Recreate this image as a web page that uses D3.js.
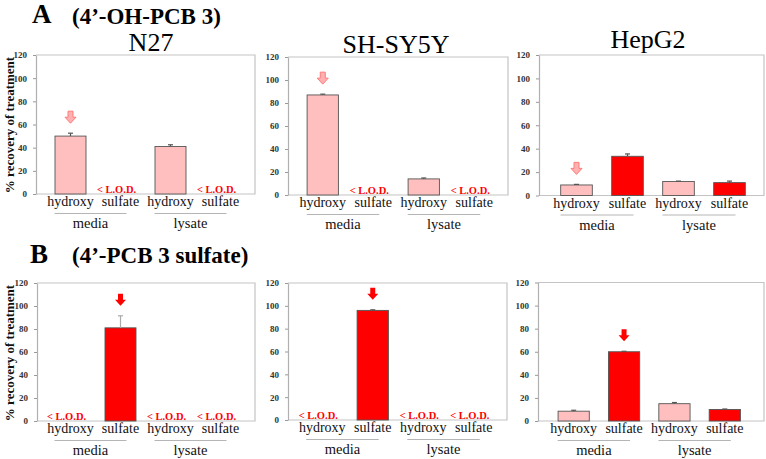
<!DOCTYPE html>
<html><head><meta charset="utf-8">
<script src="https://cdn.jsdelivr.net/npm/d3@7"></script>
<style>body{margin:0;background:#fff}svg{display:block}
svg text{font-family:"Liberation Serif","Times New Roman","DejaVu Serif",serif;}</style>
</head><body>
<svg id="c" width="766" height="459"></svg>
<script>
// ---------- data ----------
const categories = ["hydroxy", "sulfate", "hydroxy", "sulfate"];
const keys = ["mh", "ms", "lh", "ls"];
const groups = ["media", "lysate"];
const yTicks = [0, 20, 40, 60, 80, 100, 120];
const cellLines = ["N27", "SH-SY5Y", "HepG2"];
const rowTitles = ["(4\u2019-OH-PCB 3)", "(4\u2019-PCB 3 sulfate)"];
const rowLetters = ["A", "B"];
const yLabel = "% recovery of treatment";
const lodLabel = "< L.O.D.";

// % recovery (null = below limit of detection)
const A_N27 = [50, null, 41, null];
const A_N27_err = [2.5, 0, 1.5, 0];
const A_SHSY5Y = [87, null, 14, null];
const A_SHSY5Y_err = [0.7, 0, 0.8, 0];
const A_HepG2 = [9, 33.5, 12, 11];
const A_HepG2_err = [0.5, 2, 0.3, 1.3];
const B_N27 = [null, 81, null, null];
const B_N27_err = [0, 10.5, 0, 0];
const B_SHSY5Y = [null, 96, null, null];
const B_SHSY5Y_err = [0, 0.5, 0, 0];
const B_HepG2 = [8.5, 60, 15, 10];
const B_HepG2_err = [0.8, 0.4, 1, 0.4];
// index of the treated compound (arrow)
const arrowA = 0, arrowB = 1;

// ---------- layout ----------
const panels = [
  {vals: A_N27, errs: A_N27_err, arrow: arrowA, row: 0, title: cellLines[0], tx: 151, ty: 51,
   axisX: 36, top: 55, bottom: 194, right: 255, b0: 45.5, b1: 245.5},
  {vals: A_SHSY5Y, errs: A_SHSY5Y_err, arrow: arrowA, row: 0, title: cellLines[1], tx: 396, ty: 52.5,
   axisX: 288, top: 57, bottom: 195, right: 508, b0: 297.5, b1: 499.5},
  {vals: A_HepG2, errs: A_HepG2_err, arrow: arrowA, row: 0, title: cellLines[2], tx: 648, ty: 47.5,
   axisX: 539, top: 55, bottom: 195.5, right: 764, b0: 551, b1: 755},
  {vals: B_N27, errs: B_N27_err, arrow: arrowB, row: 1, title: null,
   axisX: 37, top: 283, bottom: 421, right: 255, b0: 45.5, b1: 245.5},
  {vals: B_SHSY5Y, errs: B_SHSY5Y_err, arrow: arrowB, row: 1, title: null,
   axisX: 288, top: 283, bottom: 420, right: 507, b0: 297, b1: 499},
  {vals: B_HepG2, errs: B_HepG2_err, arrow: arrowB, row: 1, title: null,
   axisX: 538, top: 282.5, bottom: 421, right: 764, b0: 548.5, b1: 750}
];

const pink = "#ffbfbf", red = "#ff0000";
const svg = d3.select("#c");

// row headings
[[32, 23, 72, 24], [30, 263, 72, 263]].forEach((p, i) => {
  svg.append("text").attr("x", p[0]).attr("y", p[1]).text(rowLetters[i])
    .style("font-weight", "bold").style("font-size", "27px").attr("fill", "#000");
  svg.append("text").attr("x", p[2]).attr("y", p[3]).text(rowTitles[i])
    .style("font-weight", "bold").style("font-size", "23px").attr("fill", "#000");
});

// y labels
[125, 353].forEach(cy => {
  svg.append("text").attr("transform", `translate(14,${cy}) rotate(-90)`)
    .attr("text-anchor", "middle").text(yLabel)
    .style("font-weight", "bold").style("font-size", "13px").attr("fill", "#111");
});

const arrowPath = "M-2.5,-12L2.5,-12L2.5,-6L5.5,-6L0,0L-5.5,-6L-2.5,-6Z";

panels.forEach(p => {
  const g = svg.append("g");
  const y = d3.scaleLinear().domain([0, 120]).range([p.bottom, p.top]);
  const x = d3.scaleBand().domain(keys).range([p.b0, p.b1]).paddingInner(0.38).paddingOuter(0.19);
  const bw = x.bandwidth();
  const cx = k => x(k) + bw / 2;

  // frame
  g.append("path")
    .attr("d", `M${p.axisX},${p.top}H${p.right}V${p.bottom}H${p.axisX}`)
    .attr("fill", "none").attr("stroke", "#c4c4c4").attr("stroke-width", 1.2);

  // y axis
  const ax = g.append("g").attr("transform", `translate(${p.axisX},0)`)
    .call(d3.axisLeft(y).tickValues(yTicks).tickSize(3).tickSizeOuter(0).tickPadding(6));
  ax.attr("font-family", null);
  ax.select(".domain").attr("stroke", "#b0b0b0").attr("stroke-width", 1.2);
  ax.selectAll(".tick line").attr("stroke", "#999");
  ax.selectAll(".tick text").style("font-weight", "bold")
    .style("font-size", "9px").attr("fill", "#333");

  if (p.title) {
    g.append("text").attr("x", p.tx).attr("y", p.ty).attr("text-anchor", "middle")
      .text(p.title).style("font-size", "26px").attr("fill", "#000");
  }

  const data = keys.map((k, i) => ({k, cat: categories[i], v: p.vals[i], e: p.errs[i], i}));

  // bars
  g.selectAll("rect.bar").data(data.filter(d => d.v != null)).join("rect")
    .attr("x", d => x(d.k)).attr("width", bw)
    .attr("y", d => y(d.v)).attr("height", d => y(0) - y(d.v))
    .attr("fill", d => d.cat === "hydroxy" ? pink : red)
    .attr("stroke", "#555").attr("stroke-width", 0.9);

  // error bars
  data.filter(d => d.v != null && d.e > 0).forEach(d => {
    const c = cx(d.k), yt = y(d.v + d.e);
    const col = d.e > 5 ? "#aaa" : "#555";
    g.append("line").attr("x1", c).attr("x2", c).attr("y1", y(d.v)).attr("y2", yt)
      .attr("stroke", col).attr("stroke-width", 1.2);
    g.append("line").attr("x1", c - 2.5).attr("x2", c + 2.5).attr("y1", yt).attr("y2", yt)
      .attr("stroke", col).attr("stroke-width", 1.2);
  });

  // L.O.D.
  data.filter(d => d.v == null).forEach(d => {
    g.append("text").attr("x", cx(d.k) - 4).attr("y", y(0) - 1.5).attr("text-anchor", "middle")
      .text(lodLabel).style("font-weight", "bold")
      .style("font-size", "10.5px").attr("fill", red);
  });

  // arrow
  const ad = data[p.arrow];
  const tipY = y(ad.v + ad.e) - 10;
  g.append("path").attr("d", arrowPath)
    .attr("transform", `translate(${cx(ad.k)},${tipY})`)
    .attr("fill", p.row === 0 ? "#ffb0b0" : red)
    .attr("stroke", p.row === 0 ? "#ff7a7a" : "none").attr("stroke-width", 1);

  // category labels
  data.forEach(d => {
    g.append("text").attr("x", cx(d.k)).attr("y", y(0) + 12).attr("text-anchor", "middle")
      .text(d.cat).style("font-size", "14px").attr("fill", "#111");
  });

  // group underlines & labels
  groups.forEach((gr, gi) => {
    const x1 = cx(keys[gi * 2]) - 16, x2 = cx(keys[gi * 2 + 1]) + 6;
    g.append("line").attr("x1", x1).attr("x2", x2).attr("y1", y(0) + 19.5).attr("y2", y(0) + 19.5)
      .attr("stroke", "#b5b5b5").attr("stroke-width", 1);
    g.append("text").attr("x", (x1 + x2) / 2).attr("y", y(0) + 34).attr("text-anchor", "middle")
      .text(gr).style("font-size", "14.5px").attr("fill", "#111");
  });
});
</script>
</body></html>
